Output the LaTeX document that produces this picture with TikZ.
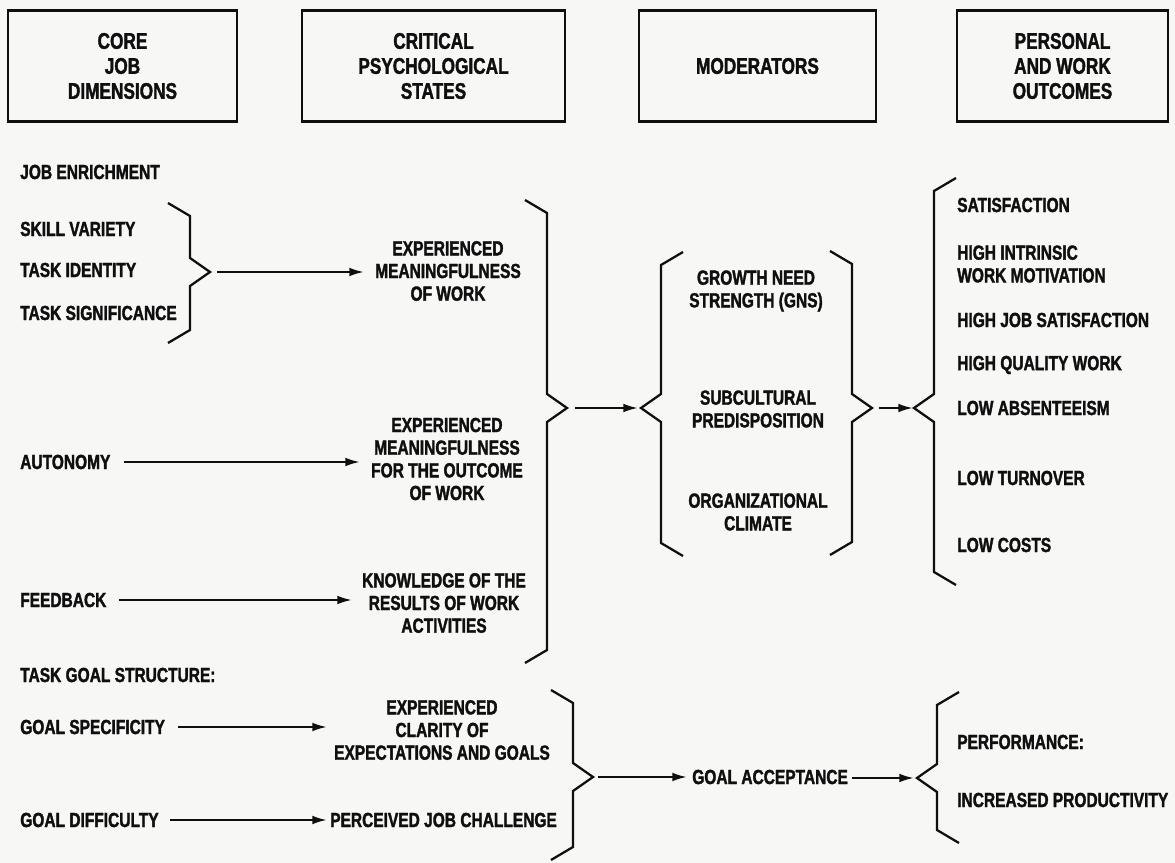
\documentclass[tikz,border=0pt]{standalone}
\usepackage{fontspec}
\setmainfont{Liberation Sans}[FakeStretch=0.76, BoldFeatures={FakeBold=1.6}]
\usetikzlibrary{arrows.meta}
\definecolor{paper}{RGB}{247,247,245}
\definecolor{ink}{RGB}{15,15,15}
% right-facing brace "}" : name, x of vertical, y top hook end, y tip, y bottom hook end
\newcommand{\RBr}[5]{%
  \draw[brace] ({#2-22},#3) -- (#2,{#3+13}) -- (#2,{#4-14}) -- ({#2+20},#4) -- (#2,{#4+14}) -- (#2,{#5-13}) -- ({#2-22},#5);
  \coordinate (#1) at ({#2+20},#4);}
% left-facing brace "{"
\newcommand{\LBr}[5]{%
  \draw[brace] ({#2+22},#3) -- (#2,{#3+13}) -- (#2,{#4-14}) -- ({#2-20},#4) -- (#2,{#4+14}) -- (#2,{#5-13}) -- ({#2+22},#5);
  \coordinate (#1) at ({#2-20},#4);}
\begin{document}
\begin{tikzpicture}[x=0.75pt,y=-0.75pt,
  lab/.style={font=\bfseries\fontsize{15.3}{17}\selectfont, text=ink, inner sep=0pt, anchor=west},
  ctr/.style={font=\bfseries\fontsize{15.3}{17}\selectfont, text=ink, inner sep=0pt, align=center},
  hbox/.style={draw=ink, line width=1.6pt, text=ink, font=\bfseries\fontsize{17}{18.75}\selectfont, align=center, minimum height=83.25pt},
  arr/.style={draw=ink, line width=1.6pt, -{Latex[length=11pt,width=6.5pt]}},
  brace/.style={draw=ink, line width=1.7pt, line join=miter}]
\fill[paper] (0,0) rectangle (1175,863);
\useasboundingbox (0,0) rectangle (1175,863);

% header boxes
\node[hbox, minimum width=171.75pt] (h1) at (122.5,66) {CORE\\JOB\\DIMENSIONS};
\node[hbox, minimum width=197.25pt] (h2) at (433.5,66) {CRITICAL\\PSYCHOLOGICAL\\STATES};
\node[hbox, minimum width=177.75pt] (h3) at (757.5,66) {MODERATORS};
\node[hbox, minimum width=158.25pt] (h4) at (1062.5,66) {PERSONAL\\AND WORK\\OUTCOMES};

% left column
\node[lab] (je) at (20,172) {JOB ENRICHMENT};
\node[lab] (sv) at (20,229) {SKILL VARIETY};
\node[lab] (ti) at (20,270) {TASK IDENTITY};
\node[lab] (ts) at (20,313) {TASK SIGNIFICANCE};
\node[lab] (au) at (20,462) {AUTONOMY};
\node[lab] (fb) at (20,600) {FEEDBACK};
\node[lab] (tgs) at (20,675) {TASK GOAL STRUCTURE:};
\node[lab] (gs) at (20,727) {GOAL SPECIFICITY};
\node[lab] (gd) at (20,820) {GOAL DIFFICULTY};

% psychological states
\node[ctr] (emw) at (448,271) {EXPERIENCED\\MEANINGFULNESS\\OF WORK};
\node[ctr] (emo) at (447,459) {EXPERIENCED\\MEANINGFULNESS\\FOR THE OUTCOME\\OF WORK};
\node[ctr] (kr) at (444,603) {KNOWLEDGE OF THE\\RESULTS OF WORK\\ACTIVITIES};
\node[ctr] (ec) at (442,730) {EXPERIENCED\\CLARITY OF\\EXPECTATIONS AND GOALS};
\node[lab] (pjc) at (330,820) {PERCEIVED JOB CHALLENGE};

% moderators
\node[ctr] (gns) at (756,291) {GROWTH NEED\\STRENGTH (GNS)};
\node[ctr] (sub) at (758,409) {SUBCULTURAL\\PREDISPOSITION};
\node[ctr] (org) at (758,512) {ORGANIZATIONAL\\CLIMATE};
\node[lab] (ga) at (692,777) {GOAL ACCEPTANCE};

% outcomes
\node[lab] (sat) at (957,205) {SATISFACTION};
\node[lab, align=left] (him) at (957,264) {HIGH INTRINSIC\\WORK MOTIVATION};
\node[lab] (hjs) at (957,320) {HIGH JOB SATISFACTION};
\node[lab] (hqw) at (957,365) {HIGH QUALITY WORK};
\node[lab] (la) at (957,408) {LOW ABSENTEEISM};
\node[lab] (lt) at (957,478) {LOW TURNOVER};
\node[lab] (lc) at (957,545) {LOW COSTS};
\node[lab] (perf) at (957,742) {PERFORMANCE:};
\node[lab] (ip) at (957,800) {INCREASED PRODUCTIVITY};

% braces
\RBr{b1}{190}{203}{272}{343}
\RBr{bb}{547}{200}{408}{663}
\LBr{ml}{661}{252}{408}{556}
\RBr{mr}{852}{251}{408}{555}
\LBr{oc}{934}{178}{408}{585}
\RBr{b3}{573}{690}{777}{860}
\LBr{pf}{937}{692}{778}{843}

% arrow end points
\coordinate (a1s) at (217,272); \coordinate (a1e) at (364,272);
\coordinate (a2s) at (124,462); \coordinate (a2e) at (360,462);
\coordinate (a3s) at (119,600); \coordinate (a3e) at (352,600);
\coordinate (a4s) at (178,727); \coordinate (a4e) at (327,727);
\coordinate (a5s) at (170,820); \coordinate (a5e) at (327,820);
\coordinate (a6s) at (575,408); \coordinate (a6e) at (638,408);
\coordinate (a7s) at (879,408); \coordinate (a7e) at (913,408);
\coordinate (a8s) at (598,777); \coordinate (a8e) at (687,777);
\coordinate (a9s) at (852,778); \coordinate (a9e) at (914,778);

\draw[arr] (a1s) -- (a1e);
\draw[arr] (a2s) -- (a2e);
\draw[arr] (a3s) -- (a3e);
\draw[arr] (a4s) -- (a4e);
\draw[arr] (a5s) -- (a5e);
\draw[arr] (a6s) -- (a6e);
\draw[arr] (a7s) -- (a7e);
\draw[arr] (a8s) -- (a8e);
\draw[arr] (a9s) -- (a9e);
\end{tikzpicture}
\end{document}
